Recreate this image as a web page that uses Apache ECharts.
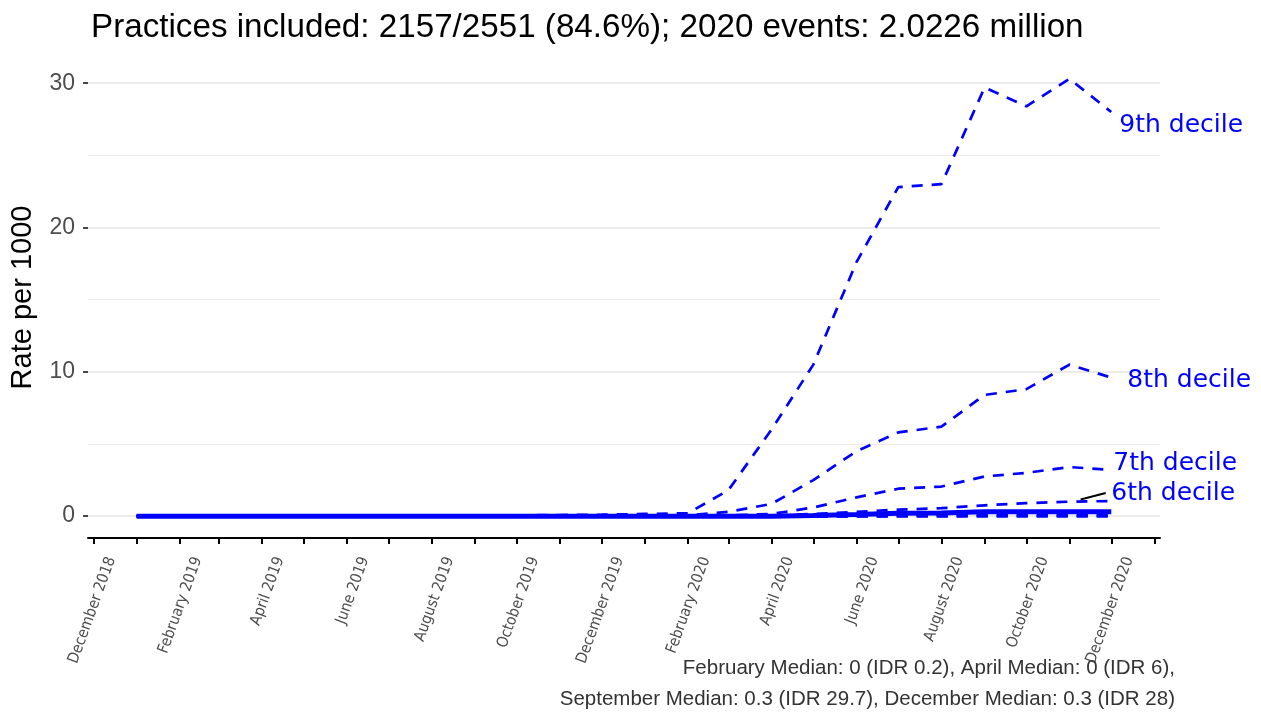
<!DOCTYPE html>
<html>
<head>
<meta charset="utf-8">
<script src="https://cdn.jsdelivr.net/npm/echarts@6/dist/echarts.min.js"></script>
<style>
  html, body { margin: 0; padding: 0; background: #fff; }
  #chart { width: 1261px; height: 715px; }
</style>
</head>
<body>
<div id="chart"></div>
<script>
// Monthly rate per 1000 by practice decile, January 2019 – December 2020
const months = [
  '2019-01','2019-02','2019-03','2019-04','2019-05','2019-06',
  '2019-07','2019-08','2019-09','2019-10','2019-11','2019-12',
  '2020-01','2020-02','2020-03','2020-04','2020-05','2020-06',
  '2020-07','2020-08','2020-09','2020-10','2020-11','2020-12'
];
const decile1 = [0,0,0,0,0,0, 0,0,0,0,0,0, 0,0,0,0,0,0, 0,0,0,0,0,0];
const decile2 = [0,0,0,0,0,0, 0,0,0,0,0,0, 0,0,0,0,0,0, 0,0,0,0,0,0];
const decile3 = [0,0,0,0,0,0, 0,0,0,0,0,0, 0,0,0,0,0,0, 0.01,0.02,0.03,0.03,0.03,0.03];
const decile4 = [0,0,0,0,0,0, 0,0,0,0,0,0, 0,0,0,0,0,0.03, 0.06,0.08,0.1,0.12,0.12,0.12];
const median  = [0,0,0,0,0,0, 0,0,0,0,0,0, 0,0,0,0,0.05,0.12, 0.2,0.22,0.3,0.3,0.3,0.3];
const decile6 = [0,0,0,0,0,0, 0,0,0,0,0,0, 0,0,0.02,0.05,0.15,0.3, 0.45,0.55,0.75,0.9,1.0,1.05];
const decile7 = [0,0,0,0,0,0, 0,0,0,0,0,0, 0,0.02,0.05,0.15,0.6,1.3, 1.9,2.05,2.75,3.0,3.4,3.2];
const decile8 = [0,0,0,0,0,0, 0,0,0,0,0,0, 0.02,0.05,0.3,0.85,2.5,4.5, 5.8,6.2,8.4,8.8,10.5,9.6];
const decile9 = [0,0,0,0,0,0, 0,0,0.02,0.05,0.08,0.1, 0.15,0.2,1.8,6.0,10.5,17.6, 22.8,23.0,29.7,28.4,30.3,28.0];

// Axis ticks (every month) and labelled months (every other month)
const tickMonths = [
  '2018-12','2019-01','2019-02','2019-03','2019-04','2019-05','2019-06',
  '2019-07','2019-08','2019-09','2019-10','2019-11','2019-12',
  '2020-01','2020-02','2020-03','2020-04','2020-05','2020-06',
  '2020-07','2020-08','2020-09','2020-10','2020-11','2020-12','2021-01'
];
const labelMonths = [
  '2018-12','2019-02','2019-04','2019-06','2019-08','2019-10',
  '2019-12','2020-02','2020-04','2020-06','2020-08','2020-10','2020-12'
];
const monthNames = ['January','February','March','April','May','June','July',
  'August','September','October','November','December'];
const yTicks = [0, 10, 20, 30];
const yGrid = [0, 5, 10, 15, 20, 25, 30];

const titleText = 'Practices included: 2157/2551 (84.6%); 2020 events: 2.0226 million';
const captionLines = [
  'February Median: 0 (IDR 0.2), April Median: 0 (IDR 6),',
  'September Median: 0.3 (IDR 29.7), December Median: 0.3 (IDR 28)'
];

function ts(m) {
  const [y, mo] = m.split('-').map(Number);
  return Date.UTC(y, mo - 1, 1);
}
function pairs(vals) { return months.map((m, i) => [ts(m), vals[i]]); }

const tStart = ts(months[0]), tEnd = ts(months[months.length - 1]);
const xPad = 0.05 * (tEnd - tStart);
const allVals = [].concat(decile1, decile2, decile3, decile4, median, decile6, decile7, decile8, decile9);
const yMaxData = Math.max(...allVals), yMinData = Math.min(...allVals);
const yPad = 0.05 * (yMaxData - yMinData);

const BLUE = '#0000ff';
const dash = [11, 9];
function dashed(name, vals, label, labelOffset, z) {
  return {
    name, type: 'line', data: pairs(vals), symbol: 'none', z: z || 3,
    lineStyle: { color: BLUE, width: 2.7, type: dash },
    emphasis: { disabled: true },
    endLabel: label ? {
      show: true, formatter: label, color: BLUE, fontSize: 25,
      fontFamily: 'DejaVu Sans', offset: labelOffset, distance: 5
    } : { show: false }
  };
}

const series = [
  Object.assign(dashed('Decile 1', decile1, null, null, 2), {
    markLine: {
      silent: true, symbol: 'none', z: 0, zlevel: 0, label: { show: false },
      data: yGrid.map(v => ({
        yAxis: v,
        lineStyle: { color: '#ebebeb', type: 'solid', width: v % 10 === 0 ? 1.8 : 1 }
      }))
    }
  }),
  dashed('Decile 2', decile2),
  dashed('Decile 3', decile3),
  dashed('Decile 4', decile4),
  dashed('Decile 6', decile6, '6th decile', [-5, -7]),
  dashed('Decile 7', decile7, '7th decile', [-3, -6]),
  dashed('Decile 8', decile8, '8th decile', [11, 3]),
  dashed('Decile 9', decile9, '9th decile', [3, 13]),
  {
    name: 'Median', type: 'line', data: pairs(median), symbol: 'none', z: 4,
    lineStyle: { color: BLUE, width: 5, type: 'solid' },
    emphasis: { disabled: true }
  },
  {
    // connector from the 6th decile line to its label
    name: 'connector', type: 'line', symbol: 'none', z: 5, data: [],
    markLine: {
      silent: true, symbol: 'none', label: { show: false },
      lineStyle: { color: '#000', width: 2, type: 'solid' },
      data: [[
        { coord: [tEnd - 22 * 864e5, 1.15] },
        { coord: [tEnd - 4 * 864e5, 1.6] }
      ]]
    }
  }
];

const captionStyle = { fontFamily: 'Liberation Sans', fontSize: 20.5, fontWeight: 'normal', color: '#333' };

const chart = echarts.init(document.getElementById('chart'), null, { renderer: 'canvas' });
chart.setOption({
  animation: false,
  backgroundColor: '#ffffff',
  title: [
    {
      text: titleText, left: 86, top: 6,
      textStyle: { fontFamily: 'Liberation Sans', fontSize: 33.2, fontWeight: 'normal', color: '#000' }
    },
    { text: captionLines[0], right: 81, top: 653, textStyle: captionStyle },
    { text: captionLines[1], right: 81, top: 684, textStyle: captionStyle }
  ],
  grid: { left: 88, right: 101, top: 57, bottom: 177, containLabel: false },
  xAxis: {
    type: 'value',
    min: tStart - xPad, max: tEnd + xPad,
    splitLine: { show: false },
    axisLine: { show: true, onZero: false, lineStyle: { color: '#000', width: 2 } },
    axisTick: { show: true, length: 6, lineStyle: { color: '#000', width: 2 }, customValues: tickMonths.map(ts) },
    axisLabel: {
      customValues: labelMonths.map(ts),
      rotate: 70, margin: 13, color: '#4d4d4d', fontSize: 15.5,
      fontFamily: "'DejaVu Sans Condensed', 'Liberation Sans', sans-serif",
      verticalAlign: 'top', lineHeight: 38,
      formatter: v => { const d = new Date(v); return monthNames[d.getUTCMonth()] + ' ' + d.getUTCFullYear(); }
    }
  },
  yAxis: {
    type: 'value',
    min: yMinData - yPad, max: yMaxData + yPad,
    name: 'Rate per 1000', nameLocation: 'middle', nameRotate: 90, nameGap: 51,
    nameTextStyle: { fontFamily: 'Liberation Sans', fontSize: 29, color: '#000' },
    splitLine: { show: false },
    axisLine: { show: false },
    axisTick: { show: true, length: 5, lineStyle: { color: '#333', width: 1.8 }, customValues: yTicks },
    axisLabel: { customValues: yTicks, color: '#4d4d4d', fontSize: 23, fontFamily: 'Liberation Sans', margin: 13 }
  },
  series
});
</script>
</body>
</html>
